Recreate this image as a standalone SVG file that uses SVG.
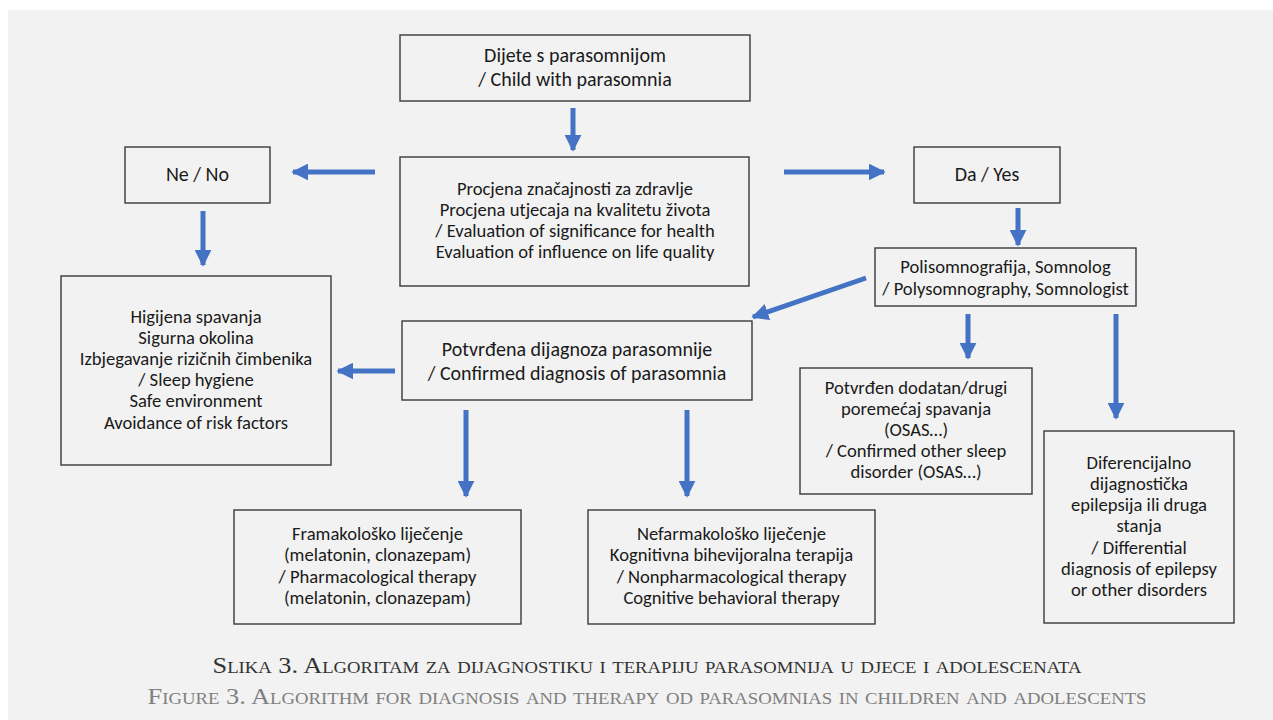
<svg xmlns="http://www.w3.org/2000/svg" width="1273" height="720" viewBox="0 0 1273 720">
<defs>
<style>
.box{fill:none;stroke:#3a3a3a;stroke-width:1.4}
.t{font-family:Carlito,Lato,"Liberation Sans",sans-serif;font-size:18.6px;fill:#1a1a1a;text-anchor:middle}
.tb{font-size:20px}
.c{stroke:#4472c4;stroke-width:5;fill:none}
.cap{font-family:"Liberation Serif",serif;font-variant:small-caps;text-anchor:middle;font-size:24px}
</style>
<marker id="ah" viewBox="0 0 10 10" refX="9" refY="5" markerWidth="3.4" markerHeight="3.4" orient="auto" markerUnits="strokeWidth">
<path d="M0,0 L10,5 L0,10 Z" fill="#4472c4"/>
</marker>
</defs>
<rect x="0" y="0" width="1273" height="720" fill="#ffffff"/>
<rect x="8" y="10" width="1265" height="710" fill="#f2f2f2"/>

<g id="connectors">
<line class="c" x1="573" y1="108" x2="573" y2="150" marker-end="url(#ah)"/>
<line class="c" x1="375" y1="172" x2="293" y2="172" marker-end="url(#ah)"/>
<line class="c" x1="784" y1="172" x2="884" y2="172" marker-end="url(#ah)"/>
<line class="c" x1="203" y1="211" x2="203" y2="265" marker-end="url(#ah)"/>
<line class="c" x1="1018" y1="208" x2="1018" y2="245" marker-end="url(#ah)"/>
<line class="c" x1="866" y1="278" x2="753" y2="317" marker-end="url(#ah)"/>
<line class="c" x1="395" y1="371" x2="338" y2="371" marker-end="url(#ah)"/>
<line class="c" x1="968" y1="314" x2="968" y2="358" marker-end="url(#ah)"/>
<line class="c" x1="1116" y1="314" x2="1116" y2="418" marker-end="url(#ah)"/>
<line class="c" x1="466" y1="410" x2="466" y2="496" marker-end="url(#ah)"/>
<line class="c" x1="687" y1="410" x2="687" y2="496" marker-end="url(#ah)"/>
</g>

<g id="n-start">
<rect class="box" x="400" y="35" width="350" height="66"/>
<text class="t tb" x="575" y="62">Dijete s parasomnijom</text>
<text class="t tb" x="575" y="86">/ Child with parasomnia</text>
</g>

<g id="n-eval">
<rect class="box" x="400" y="157" width="349" height="129"/>
<text class="t" x="575" y="195">Procjena značajnosti za zdravlje</text>
<text class="t" x="575" y="216">Procjena utjecaja na kvalitetu života</text>
<text class="t" x="575" y="237">/ Evaluation of significance for health</text>
<text class="t" x="575" y="258">Evaluation of influence on life quality</text>
</g>

<g id="n-no">
<rect class="box" x="125" y="147" width="145" height="56"/>
<text class="t tb" x="197.5" y="181">Ne / No</text>
</g>

<g id="n-yes">
<rect class="box" x="914" y="147" width="146" height="56"/>
<text class="t tb" x="987" y="181">Da / Yes</text>
</g>

<g id="n-psg">
<rect class="box" x="875" y="248" width="261" height="58"/>
<text class="t" x="1005.5" y="273">Polisomnografija, Somnolog</text>
<text class="t" x="1005.5" y="295">/ Polysomnography, Somnologist</text>
</g>

<g id="n-hygiene">
<rect class="box" x="61" y="276" width="270" height="189"/>
<text class="t" x="196" y="323">Higijena spavanja</text>
<text class="t" x="196" y="344">Sigurna okolina</text>
<text class="t" x="196" y="365">Izbjegavanje rizičnih čimbenika</text>
<text class="t" x="196" y="386">/ Sleep hygiene</text>
<text class="t" x="196" y="407">Safe environment</text>
<text class="t" x="196" y="429">Avoidance of risk factors</text>
</g>

<g id="n-confirmed">
<rect class="box" x="402" y="321" width="350" height="79"/>
<text class="t tb" x="577" y="356">Potvrđena dijagnoza parasomnije</text>
<text class="t tb" x="577" y="380">/ Confirmed diagnosis of parasomnia</text>
</g>

<g id="n-other">
<rect class="box" x="800" y="368" width="232" height="126"/>
<text class="t" x="916" y="394">Potvrđen dodatan/drugi</text>
<text class="t" x="916" y="415">poremećaj spavanja</text>
<text class="t" x="916" y="436">(OSAS…)</text>
<text class="t" x="916" y="457">/ Confirmed other sleep</text>
<text class="t" x="916" y="478">disorder (OSAS…)</text>
</g>

<g id="n-diff">
<rect class="box" x="1044" y="431" width="190" height="192"/>
<text class="t" x="1139" y="469">Diferencijalno</text>
<text class="t" x="1139" y="490">dijagnostička</text>
<text class="t" x="1139" y="511">epilepsija ili druga</text>
<text class="t" x="1139" y="532">stanja</text>
<text class="t" x="1139" y="554">/ Differential</text>
<text class="t" x="1139" y="575">diagnosis of epilepsy</text>
<text class="t" x="1139" y="596">or other disorders</text>
</g>

<g id="n-pharm">
<rect class="box" x="234" y="510" width="287" height="114"/>
<text class="t" x="377.5" y="540">Framakološko liječenje</text>
<text class="t" x="377.5" y="561">(melatonin, clonazepam)</text>
<text class="t" x="377.5" y="583">/ Pharmacological therapy</text>
<text class="t" x="377.5" y="604">(melatonin, clonazepam)</text>
</g>

<g id="n-nonpharm">
<rect class="box" x="588" y="510" width="287" height="114"/>
<text class="t" x="731.5" y="540">Nefarmakološko liječenje</text>
<text class="t" x="731.5" y="561">Kognitivna bihevijoralna terapija</text>
<text class="t" x="731.5" y="583">/ Nonpharmacological therapy</text>
<text class="t" x="731.5" y="604">Cognitive behavioral therapy</text>
</g>

<g id="caption">
<text class="cap" x="647" y="673" fill="#333333" textLength="869" lengthAdjust="spacingAndGlyphs">Slika 3. Algoritam za dijagnostiku i terapiju parasomnija u djece i adolescenata</text>
<text class="cap" x="647" y="704" fill="#808080" textLength="999" lengthAdjust="spacingAndGlyphs">Figure 3. Algorithm for diagnosis and therapy od parasomnias in children and adolescents</text>
</g>
</svg>
